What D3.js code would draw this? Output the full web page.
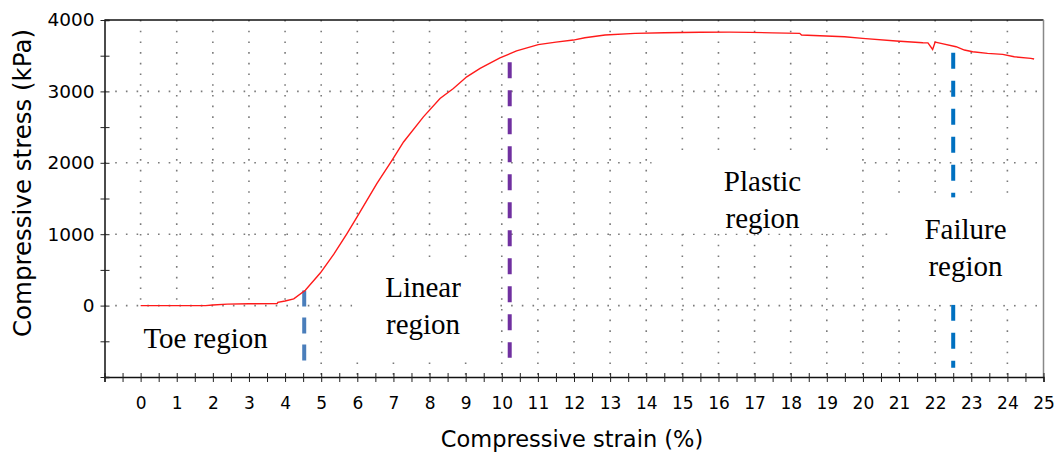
<!DOCTYPE html>
<html>
<head>
  <meta charset="utf-8">
  <script src="https://cdn.jsdelivr.net/npm/d3@7"></script>
  <style>
    body { margin: 0; background: #fff; }
    .tick text { font-family: "DejaVu Sans", Verdana, sans-serif; fill: #000; }
    .region { font-family: "Liberation Serif", "Times New Roman", serif; font-size: 29px; fill: #000; }
  </style>
</head>
<body>
<script>
  // measured curve (strain %, stress kPa)
  var strain = [0, 1.8, 2.0, 2.4, 3.0, 3.78, 3.8, 4.0, 4.24, 4.56, 4.98, 5.35, 5.71, 5.99, 6.54, 6.96, 7.28,
                7.83, 8.29, 8.66, 9.03, 9.4, 9.95, 10.41, 11.01, 11.5, 11.98, 12.3, 12.86, 13.69, 14.5, 15.5,
                16.3, 16.87, 17.5, 18.25, 18.3, 19.49, 19.99, 20.92, 21.66, 21.8, 21.93, 22.0, 22.16, 22.58,
                22.81, 23.04, 23.45, 23.87, 24.19, 24.65, 24.74];
  var stress = [0, 0, 8, 20, 25, 28, 46, 65, 94, 215, 459, 720, 1006, 1239, 1708, 2035, 2292,
                2643, 2901, 3041, 3204, 3322, 3470, 3567, 3655, 3690, 3719, 3752, 3789, 3813, 3822, 3828,
                3830, 3827, 3820, 3813, 3789, 3766, 3743, 3705, 3682, 3680, 3588, 3690, 3672, 3626,
                3579, 3555, 3532, 3518, 3485, 3462, 3453];

  var xTickLabels = d3.range(0, 26);
  var yTickLabels = [0, 1000, 2000, 3000, 4000];

  var regionNames = [["Toe region"], ["Linear", "region"], ["Plastic", "region"], ["Failure", "region"]];
  var boundaryStrain = [4.53, 10.22, 22.5];
  var boundaryTop = [210, 3410, 3540];
  var boundaryBottom = [-830, -730, -870];

  var width = 1057, height = 452;
  var x = d3.scaleLinear().domain([-1, 25]).range([104.5, 1043.5]);
  var y = d3.scaleLinear().domain([-1000, 4000]).range([377, 20]);

  var svg = d3.select("body").append("svg")
      .attr("width", width)
      .attr("height", height);

  /* dotted grid */
  var grid = svg.append("g").attr("stroke", "#7a7a7a").attr("stroke-width", 1.6)
      .attr("stroke-dasharray", "1.6 9.1");
  grid.selectAll("line.v").data(d3.range(0, 25)).enter().append("line")
      .attr("x1", function(d) { return x(d); }).attr("x2", function(d) { return x(d); })
      .attr("y1", y(4000)).attr("y2", y(-1000));
  grid.selectAll("line.h").data([0, 1000, 2000, 3000]).enter().append("line")
      .attr("x1", x(-1)).attr("x2", x(25))
      .attr("y1", function(d) { return y(d); }).attr("y2", function(d) { return y(d); });

  /* region boundaries */
  var lineColors = ["#4a7ebb", "#7030a0", "#0070c0"];
  svg.selectAll("line.bound").data(boundaryStrain).enter().append("line")
      .attr("x1", function(d) { return x(d); }).attr("x2", function(d) { return x(d); })
      .attr("y1", function(d, i) { return y(boundaryTop[i]); })
      .attr("y2", function(d, i) { return y(boundaryBottom[i]); })
      .attr("stroke", function(d, i) { return lineColors[i]; })
      .attr("stroke-width", 4)
      .attr("stroke-dasharray", function(d, i) { return i == 0 ? "16 11" : "16 12"; });

  /* white text boxes, in data units: [x0, x1, yTop, yBottom] */
  var boxes = [[-0.45, 4.27, -40, -1000], [5.86, 9.87, 660, -716], [14.15, 19.85, 2077, 1010], [20.87, 24.85, 1516, 14]];
  svg.selectAll("rect.box").data(boxes).enter().append("rect")
      .attr("x", function(d) { return x(d[0]); })
      .attr("y", function(d) { return y(d[2]); })
      .attr("width", function(d) { return x(d[1]) - x(d[0]); })
      .attr("height", function(d) { return y(d[3]) - y(d[2]); })
      .attr("fill", "#fff");

  // label anchor: [strain, stress of first baseline]
  var labelAt = [[1.8, -600], [7.82, 126], [17.22, 1600], [22.84, 926]];
  var labels = svg.selectAll("text.region").data(regionNames).enter().append("text")
      .attr("class", "region")
      .attr("text-anchor", "middle")
      .attr("x", function(d, i) { return x(labelAt[i][0]); })
      .attr("y", function(d, i) { return y(labelAt[i][1]); });
  labels.selectAll("tspan").data(function(d) { return d; }).enter().append("tspan")
      .attr("x", function() { return d3.select(this.parentNode).attr("x"); })
      .attr("dy", function(d, i) { return i == 0 ? 0 : 37; })
      .text(function(d) { return d; });

  /* curve */
  var line = d3.line()
      .x(function(d, i) { return x(strain[i]); })
      .y(function(d, i) { return y(stress[i]); });
  svg.append("path")
      .datum(strain)
      .attr("d", line)
      .attr("fill", "none")
      .attr("stroke", "#ff1a1a")
      .attr("stroke-width", 1.4);

  /* frame */
  svg.append("line").attr("x1", x(-1)).attr("x2", x(25)).attr("y1", y(4000)).attr("y2", y(4000))
      .attr("stroke", "#111").attr("stroke-width", 1.5);
  svg.append("line").attr("x1", x(25)).attr("x2", x(25)).attr("y1", y(4000)).attr("y2", y(-1000))
      .attr("stroke", "#888").attr("stroke-width", 1.5);

  /* x axis: minor ticks, then labelled ticks */
  var xMinor = svg.append("g").attr("transform", "translate(0," + y(-1000) + ")")
      .call(d3.axisBottom(x).tickValues(d3.range(-1, 25.5, 0.5)).tickSize(5).tickFormat(""));
  xMinor.selectAll(".tick line").attr("y1", -4).attr("stroke", "#222");
  xMinor.select(".domain").attr("stroke", "#111").attr("stroke-width", 1.5);

  var xAxis = svg.append("g").attr("transform", "translate(0," + y(-1000) + ")")
      .call(d3.axisBottom(x).tickValues(xTickLabels).tickSize(0).tickPadding(20));
  xAxis.select(".domain").remove();
  xAxis.selectAll(".tick text").attr("font-size", 17);

  /* y axis */
  var yMinor = svg.append("g").attr("transform", "translate(" + x(-1) + ",0)")
      .call(d3.axisRight(y).tickValues(d3.range(-1000, 4001, 500)).tickSize(5).tickFormat(""));
  yMinor.selectAll(".tick line").attr("x1", -4).attr("stroke", "#222");
  yMinor.select(".domain").attr("stroke", "#111").attr("stroke-width", 1.5);

  var yAxis = svg.append("g").attr("transform", "translate(" + x(-1) + ",0)")
      .call(d3.axisLeft(y).tickValues(yTickLabels).tickSize(0).tickPadding(10).tickFormat(d3.format("d")));
  yAxis.select(".domain").remove();
  yAxis.selectAll(".tick text").attr("font-size", 18.5);

  /* axis titles */
  svg.append("text")
      .attr("x", 572).attr("y", 447)
      .attr("text-anchor", "middle")
      .style("font-family", "'DejaVu Sans', Verdana, sans-serif")
      .style("font-size", "22.5px")
      .text("Compressive strain (%)");

  svg.append("text")
      .attr("transform", "translate(31,183) rotate(-90)")
      .attr("text-anchor", "middle")
      .style("font-family", "'DejaVu Sans', Verdana, sans-serif")
      .style("font-size", "24.5px")
      .text("Compressive stress (kPa)");
</script>
</body>
</html>
